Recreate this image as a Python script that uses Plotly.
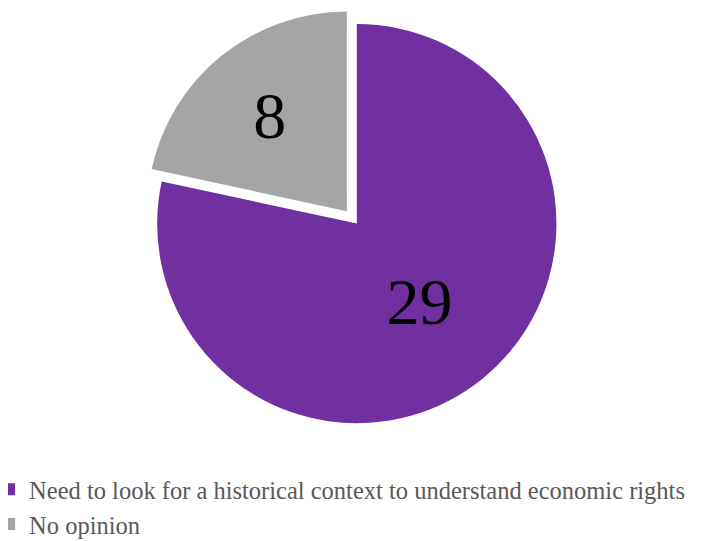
import plotly.graph_objects as go

labels = ["Need to look for a historical context to understand economic rights", "No opinion"]
values = [29, 8]
colors = ["#7030A0", "#A5A5A5"]
pulls = [0, 0.08]

fig = go.Figure(go.Pie(
    labels=labels,
    values=values,
    sort=False,
    direction="clockwise",
    rotation=0,
    pull=pulls,
    marker=dict(colors=colors, line=dict(width=0)),
    textinfo="value",
    textposition="inside",
    insidetextorientation="horizontal",
    textfont=dict(family="Liberation Serif", size=66, color="black"),
    domain=dict(x=[0.1896, 0.8056], y=[0.203, 1.0]),
))

fig.update_layout(
    width=701, height=541,
    margin=dict(l=0, r=0, t=0, b=0, autoexpand=False),
    paper_bgcolor="white",
    showlegend=True,
    legend=dict(
        x=-0.027, y=0.152, xanchor="left", yanchor="top",
        font=dict(family="Liberation Serif", size=24.5, color="#595959"),
        traceorder="normal",
        itemwidth=30,
    ),
)

fig.write_html("out.html")
